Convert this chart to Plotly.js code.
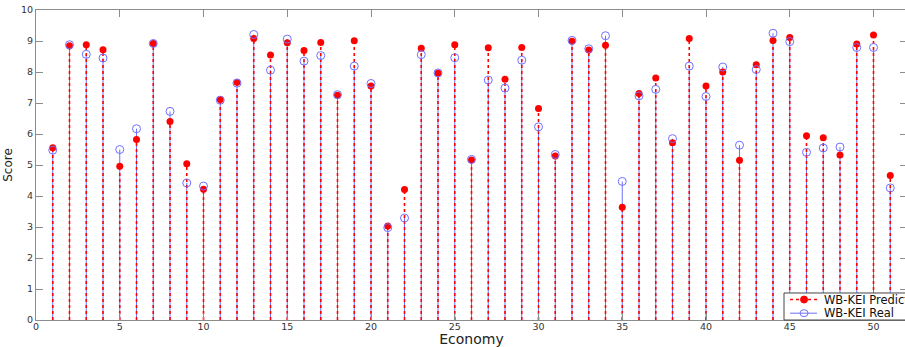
<!DOCTYPE html>
<html>
<head>
<meta charset="utf-8">
<script src="https://cdn.plot.ly/plotly-3.0.1.min.js"></script>
<style>
html, body { margin: 0; padding: 0; overflow: hidden; background: #fff; }
#chart { width: 960px; height: 347px; }
</style>
</head>
<body>
<div id="chart"></div>
<script>
// Economy index (1..51)
const economies = [1,2,3,4,5,6,7,8,9,10,11,12,13,14,15,16,17,18,19,20,21,22,23,24,25,26,27,28,29,30,31,32,33,34,35,36,37,38,39,40,41,42,43,44,45,46,47,48,49,50,51];
// WB-KEI predicted score
const predicted = [5.56,8.85,8.88,8.72,4.96,5.82,8.92,6.40,5.04,4.22,7.11,7.67,9.08,8.55,8.94,8.69,8.95,7.25,9.01,7.55,3.03,4.21,8.77,7.96,8.88,5.16,8.78,7.77,8.79,6.82,5.29,8.99,8.71,8.86,3.64,7.31,7.81,5.72,9.08,7.55,8.00,5.15,8.23,9.02,9.11,5.94,5.88,5.32,8.90,9.19,4.66];
// WB-KEI real score
const real = [5.48,8.88,8.57,8.45,5.50,6.17,8.92,6.73,4.42,4.32,7.09,7.64,9.21,8.06,9.06,8.35,8.53,7.27,8.19,7.63,2.98,3.29,8.56,7.97,8.46,5.18,7.74,7.48,8.38,6.23,5.34,9.02,8.75,9.17,4.47,7.23,7.44,5.85,8.19,7.21,8.16,5.64,8.08,9.25,8.98,5.41,5.55,5.58,8.79,8.79,4.26];
const seriesNames = ["WB-KEI Predicted", "WB-KEI Real"];

const RED = "#ff0000";
const BLUE = "#7070ff";

function stemX(xs) { return xs.flatMap(x => [x, x, null]); }
function stemY(ys) { return ys.flatMap(y => [0, y, null]); }

const traces = [
  { x: stemX(economies), y: stemY(real), type: "scatter", mode: "lines",
    line: { color: BLUE, width: 1 }, hoverinfo: "skip" },
  { x: stemX(economies), y: stemY(predicted), type: "scatter", mode: "lines",
    line: { color: RED, width: 1.6, dash: "dot" }, hoverinfo: "skip" },
  { x: economies, y: predicted, type: "scatter", mode: "markers", name: seriesNames[0],
    marker: { symbol: "circle", size: 7, color: RED } },
  { x: economies, y: real, type: "scatter", mode: "markers", name: seriesNames[1],
    marker: { symbol: "circle-open", size: 8, color: BLUE, line: { width: 1, color: BLUE } } }
];

const axisCommon = {
  showgrid: false, zeroline: false, showline: true, linecolor: "#8c8c8c", linewidth: 1,
  mirror: "ticks", ticks: "inside", ticklen: 7, tickcolor: "#8c8c8c", tickwidth: 1,
  tickfont: { family: "DejaVu Sans", size: 9.5, color: "#333" }
};

// Manual legend (box anchored at the lower right of the plot area, in paper units)
const LX0 = 0.8588, LY1 = 0.0871;
const ROW1 = 0.066, ROW2 = 0.022;
const LINE_A = 0.8657, LINE_B = 0.8967, MARK_X = 0.8818, TEXT_X = 0.9036;

const shapes = [
  { type: "rect", xref: "paper", yref: "paper", x0: LX0, x1: 1.12, y0: 0, y1: LY1,
    line: { color: "#444", width: 1 }, fillcolor: "#ffffff", layer: "above" },
  { type: "line", xref: "paper", yref: "paper", x0: LINE_A, x1: LINE_B, y0: ROW1, y1: ROW1,
    line: { color: RED, width: 1.6, dash: "dot" }, layer: "above" },
  { type: "circle", xref: "paper", yref: "paper", xsizemode: "pixel", ysizemode: "pixel",
    xanchor: MARK_X, yanchor: ROW1, x0: -3.5, x1: 3.5, y0: -3.5, y1: 3.5,
    fillcolor: RED, line: { color: RED, width: 1 }, layer: "above" },
  { type: "line", xref: "paper", yref: "paper", x0: LINE_A, x1: LINE_B, y0: ROW2, y1: ROW2,
    line: { color: BLUE, width: 1 }, layer: "above" },
  { type: "circle", xref: "paper", yref: "paper", xsizemode: "pixel", ysizemode: "pixel",
    xanchor: MARK_X, yanchor: ROW2, x0: -4, x1: 4, y0: -3.5, y1: 3.5,
    fillcolor: "rgba(255,255,255,0)", line: { color: BLUE, width: 1 }, layer: "above" }
];

const annotations = [
  { xref: "paper", yref: "paper", x: TEXT_X, y: ROW1, xanchor: "left", yanchor: "middle",
    text: seriesNames[0], showarrow: false, borderpad: 0,
    font: { family: "DejaVu Sans", size: 11.5, color: "#111" } },
  { xref: "paper", yref: "paper", x: TEXT_X, y: ROW2, xanchor: "left", yanchor: "middle",
    text: seriesNames[1], showarrow: false, borderpad: 0,
    font: { family: "DejaVu Sans", size: 11.5, color: "#111" } }
];

const layout = {
  width: 960, height: 347,
  margin: { l: 36, r: 53, t: 10, b: 27 },
  paper_bgcolor: "#ffffff", plot_bgcolor: "#ffffff",
  font: { family: "DejaVu Sans", color: "#222" },
  showlegend: false,
  shapes: shapes,
  annotations: annotations,
  xaxis: Object.assign({}, axisCommon, {
    range: [0, 52], tick0: 0, dtick: 5, ticklabelstandoff: -2,
    title: { text: "Economy", font: { family: "DejaVu Sans", size: 14, color: "#222" }, standoff: 8 }
  }),
  yaxis: Object.assign({}, axisCommon, {
    range: [0, 10], tick0: 0, dtick: 1,
    title: { text: "Score", font: { family: "DejaVu Sans", size: 12, color: "#222" }, standoff: 5 }
  })
};

Plotly.newPlot("chart", traces, layout, { displayModeBar: false, staticPlot: true });
</script>
</body>
</html>
